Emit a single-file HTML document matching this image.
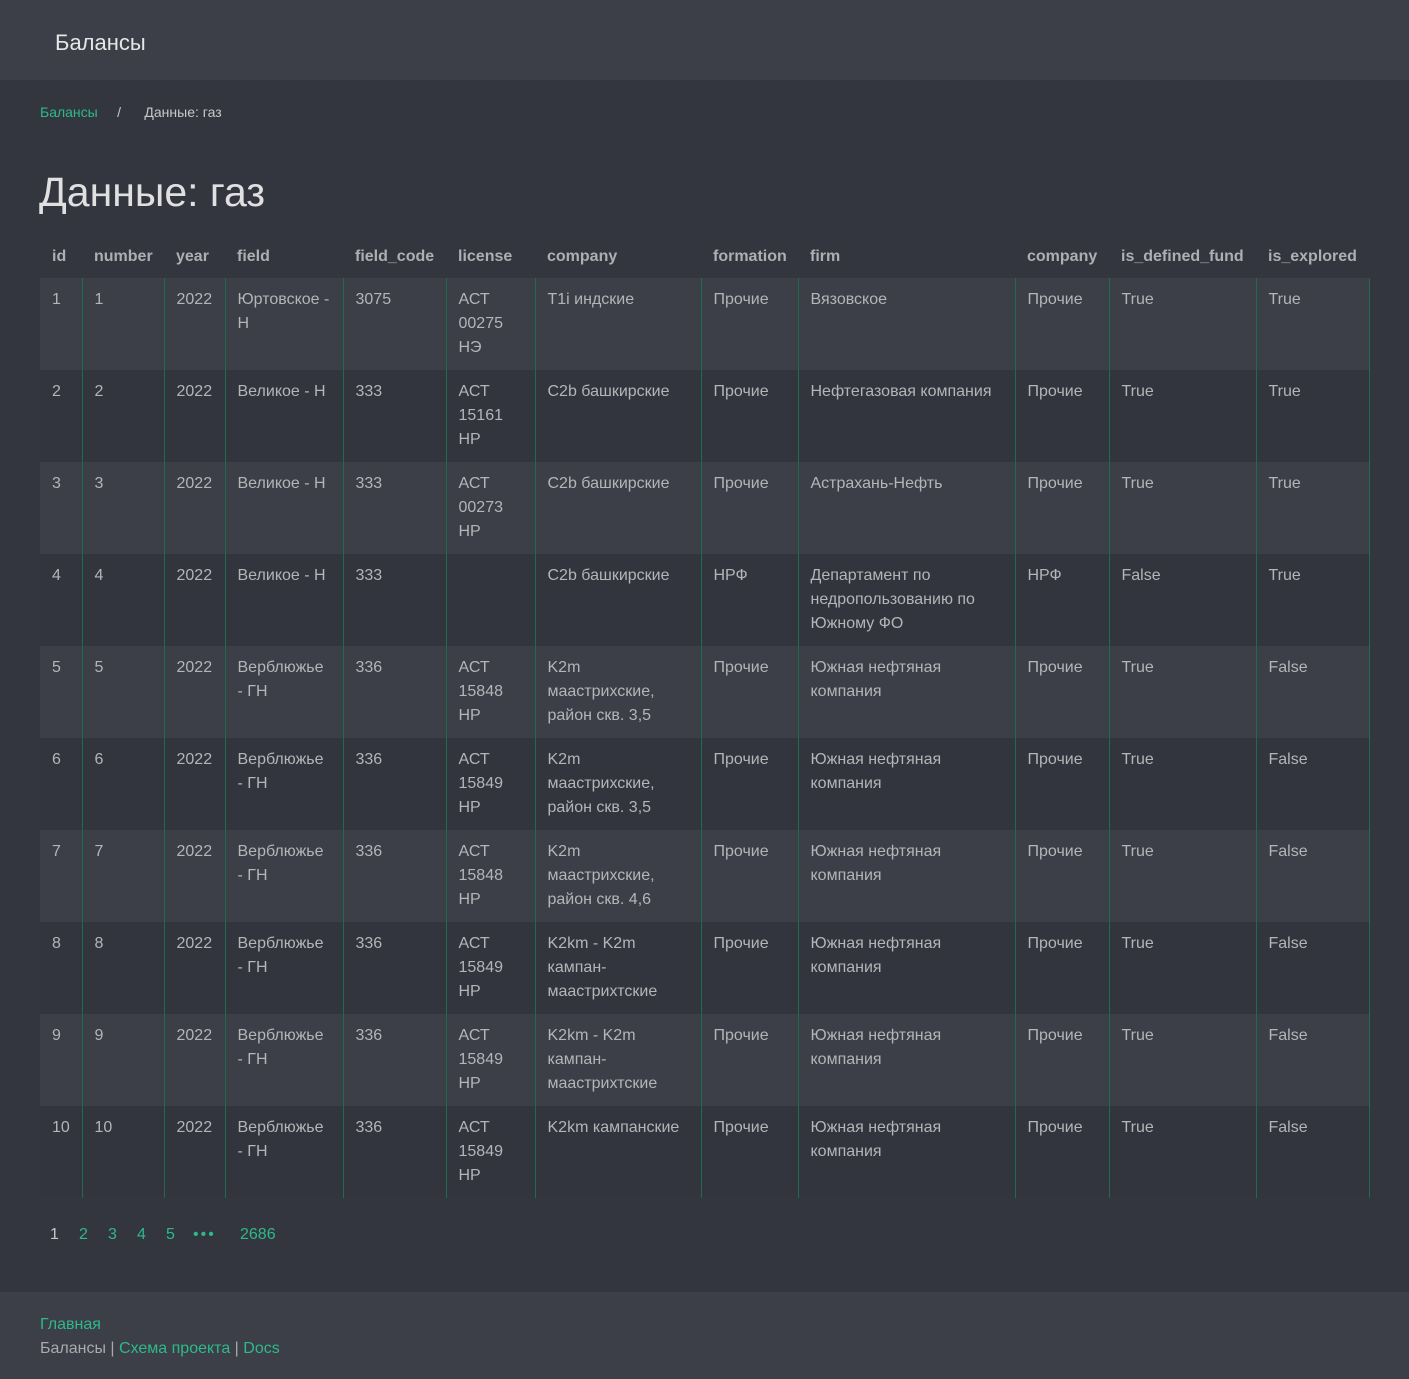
<!DOCTYPE html>
<html><head><meta charset="utf-8"><style>
*{margin:0;padding:0;box-sizing:border-box}
body{width:1409px;height:1379px;background:#33363f;font-family:"Liberation Sans",sans-serif;color:#b4b5b8;position:relative;overflow:hidden}
.top{position:absolute;left:0;top:0;width:1409px;height:80px;background:#3c3f48}
.top span{position:absolute;left:55px;top:30px;font-size:22px;color:#e6e6e6;font-family:"Liberation Sans",sans-serif}
.bc{position:absolute;left:40px;top:104px;font-size:14px;color:#c8c8c8}
.g{color:#2eb98a}
h1{position:absolute;left:39px;top:169px;font-size:41px;font-weight:normal;color:#e0e0e0;font-family:"Liberation Sans",sans-serif}
table{position:absolute;left:40px;top:238px;border-collapse:collapse;table-layout:fixed;width:1329px}
th{height:40px;text-align:left;font-size:16px;font-weight:bold;color:#aeafb3;padding:0 12px 2px 12px;vertical-align:middle;white-space:nowrap}
td{height:92px;vertical-align:top;padding:10px 12px 0 12px;font-size:16px;line-height:24px;white-space:nowrap;border-left:1px solid #1f6b50}
td:first-child{border-left:none}
td:last-child{border-right:1px solid #1f6b50}
tr.o td{background:#3c3f48}
tr.e td{background:#33353e}
.pg{position:absolute;left:50px;top:1226px;font-size:16px}
.pg span{position:absolute;top:0}
.ft{position:absolute;left:0;top:1292px;width:1409px;height:87px;background:#3c3f48;font-size:16px;line-height:24px;padding:21px 40px;color:#a9aaad}
</style></head><body>
<div class="top"><span>Балансы</span></div>
<div class="bc"><span class="g">Балансы</span>&nbsp;&nbsp;&nbsp;&nbsp;&nbsp;/&nbsp;&nbsp;&nbsp;&nbsp;&nbsp;&nbsp;Данные: газ</div>
<h1>Данные: газ</h1>
<table>
<colgroup><col style="width:42px"><col style="width:82px"><col style="width:61px"><col style="width:118px"><col style="width:103px"><col style="width:89px"><col style="width:166px"><col style="width:97px"><col style="width:217px"><col style="width:94px"><col style="width:147px"><col style="width:113px"></colgroup>
<tr><th>id</th><th>number</th><th>year</th><th>field</th><th>field_code</th><th>license</th><th>company</th><th>formation</th><th>firm</th><th>company</th><th>is_defined_fund</th><th>is_explored</th></tr>
<tr class="o"><td>1</td><td>1</td><td>2022</td><td>Юртовское -<br>Н</td><td>3075</td><td>АСТ<br>00275<br>НЭ</td><td>T1i индские</td><td>Прочие</td><td>Вязовское</td><td>Прочие</td><td>True</td><td>True</td></tr>
<tr class="e"><td>2</td><td>2</td><td>2022</td><td>Великое - Н</td><td>333</td><td>АСТ<br>15161<br>НР</td><td>C2b башкирские</td><td>Прочие</td><td>Нефтегазовая компания</td><td>Прочие</td><td>True</td><td>True</td></tr>
<tr class="o"><td>3</td><td>3</td><td>2022</td><td>Великое - Н</td><td>333</td><td>АСТ<br>00273<br>НР</td><td>C2b башкирские</td><td>Прочие</td><td>Астрахань-Нефть</td><td>Прочие</td><td>True</td><td>True</td></tr>
<tr class="e"><td>4</td><td>4</td><td>2022</td><td>Великое - Н</td><td>333</td><td></td><td>C2b башкирские</td><td>НРФ</td><td>Департамент по<br>недропользованию по<br>Южному ФО</td><td>НРФ</td><td>False</td><td>True</td></tr>
<tr class="o"><td>5</td><td>5</td><td>2022</td><td>Верблюжье<br>- ГН</td><td>336</td><td>АСТ<br>15848<br>НР</td><td>K2m<br>маастрихские,<br>район скв. 3,5</td><td>Прочие</td><td>Южная нефтяная<br>компания</td><td>Прочие</td><td>True</td><td>False</td></tr>
<tr class="e"><td>6</td><td>6</td><td>2022</td><td>Верблюжье<br>- ГН</td><td>336</td><td>АСТ<br>15849<br>НР</td><td>K2m<br>маастрихские,<br>район скв. 3,5</td><td>Прочие</td><td>Южная нефтяная<br>компания</td><td>Прочие</td><td>True</td><td>False</td></tr>
<tr class="o"><td>7</td><td>7</td><td>2022</td><td>Верблюжье<br>- ГН</td><td>336</td><td>АСТ<br>15848<br>НР</td><td>K2m<br>маастрихские,<br>район скв. 4,6</td><td>Прочие</td><td>Южная нефтяная<br>компания</td><td>Прочие</td><td>True</td><td>False</td></tr>
<tr class="e"><td>8</td><td>8</td><td>2022</td><td>Верблюжье<br>- ГН</td><td>336</td><td>АСТ<br>15849<br>НР</td><td>K2km - K2m<br>кампан-<br>маастрихтские</td><td>Прочие</td><td>Южная нефтяная<br>компания</td><td>Прочие</td><td>True</td><td>False</td></tr>
<tr class="o"><td>9</td><td>9</td><td>2022</td><td>Верблюжье<br>- ГН</td><td>336</td><td>АСТ<br>15849<br>НР</td><td>K2km - K2m<br>кампан-<br>маастрихтские</td><td>Прочие</td><td>Южная нефтяная<br>компания</td><td>Прочие</td><td>True</td><td>False</td></tr>
<tr class="e"><td>10</td><td>10</td><td>2022</td><td>Верблюжье<br>- ГН</td><td>336</td><td>АСТ<br>15849<br>НР</td><td>K2km кампанские</td><td>Прочие</td><td>Южная нефтяная<br>компания</td><td>Прочие</td><td>True</td><td>False</td></tr>
</table>
<div class="pg"><span style="left:0;color:#c8c8c8">1</span><span class="g" style="left:29px">2</span><span class="g" style="left:58px">3</span><span class="g" style="left:87px">4</span><span class="g" style="left:116px">5</span><span class="g" style="left:143px;letter-spacing:2px">•••</span><span class="g" style="left:190px">2686</span></div>
<div class="ft"><div class="g">Главная</div><div>Балансы | <span class="g">Схема проекта</span> | <span class="g">Docs</span></div></div>
</body></html>
